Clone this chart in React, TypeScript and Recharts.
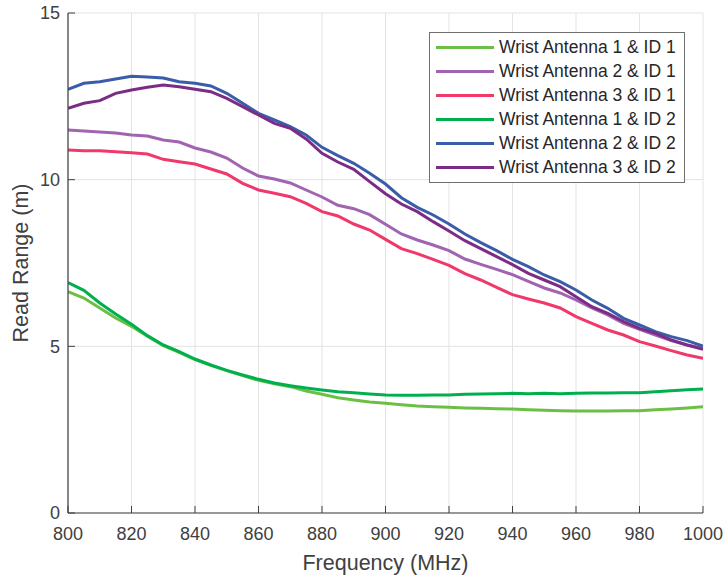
import React from 'react';
import { LineChart, Line, XAxis, YAxis, CartesianGrid } from 'recharts';

const FREQ = [800, 805, 810, 815, 820, 825, 830, 835, 840, 845, 850, 855, 860, 865, 870, 875, 880, 885, 890, 895, 900, 905, 910, 915, 920, 925, 930, 935, 940, 945, 950, 955, 960, 965, 970, 975, 980, 985, 990, 995, 1000];

const A1_ID1 = [6.64, 6.45, 6.15, 5.85, 5.6, 5.3, 5.02, 4.82, 4.6, 4.43, 4.27, 4.12, 3.98, 3.88, 3.79, 3.66, 3.56, 3.46, 3.39, 3.33, 3.29, 3.25, 3.21, 3.19, 3.17, 3.15, 3.14, 3.13, 3.12, 3.1, 3.08, 3.07, 3.06, 3.06, 3.06, 3.07, 3.07, 3.1, 3.12, 3.15, 3.19];
const A2_ID1 = [11.49, 11.46, 11.43, 11.4, 11.34, 11.31, 11.19, 11.13, 10.95, 10.83, 10.65, 10.35, 10.11, 10.02, 9.9, 9.69, 9.48, 9.23, 9.13, 8.95, 8.66, 8.37, 8.19, 8.04, 7.87, 7.62, 7.46, 7.31, 7.15, 6.95, 6.75, 6.6, 6.39, 6.15, 5.94, 5.69, 5.51, 5.34, 5.17, 5.04, 4.94];
const A3_ID1 = [10.89, 10.87, 10.87, 10.84, 10.81, 10.77, 10.61, 10.54, 10.47, 10.32, 10.17, 9.89, 9.69, 9.59, 9.49, 9.29, 9.04, 8.91, 8.67, 8.49, 8.21, 7.93, 7.78, 7.61, 7.43, 7.18, 6.99, 6.77, 6.55, 6.42, 6.3, 6.15, 5.89, 5.69, 5.49, 5.34, 5.14, 5.01, 4.87, 4.74, 4.64];
const A1_ID2 = [6.91, 6.68, 6.3, 5.97, 5.66, 5.32, 5.04, 4.84, 4.62, 4.44, 4.28, 4.14, 4.01, 3.9, 3.82, 3.75, 3.69, 3.64, 3.61, 3.57, 3.54, 3.53, 3.53, 3.54, 3.54, 3.56, 3.57, 3.58, 3.59, 3.58, 3.59, 3.58, 3.59, 3.6, 3.6, 3.61, 3.61, 3.64, 3.67, 3.7, 3.72];
const A2_ID2 = [12.71, 12.89, 12.94, 13.02, 13.1, 13.08, 13.05, 12.94, 12.89, 12.81, 12.59, 12.29, 11.99, 11.79, 11.59, 11.34, 10.97, 10.72, 10.49, 10.19, 9.87, 9.46, 9.17, 8.94, 8.67, 8.37, 8.11, 7.87, 7.61, 7.39, 7.14, 6.94, 6.69, 6.39, 6.14, 5.84, 5.64, 5.44, 5.29, 5.17, 5.01];
const A3_ID2 = [12.14, 12.29, 12.37, 12.59, 12.69, 12.77, 12.84, 12.79, 12.71, 12.64, 12.44, 12.19, 11.94, 11.69, 11.54, 11.22, 10.79, 10.53, 10.31, 9.94, 9.58, 9.27, 9.04, 8.74, 8.46, 8.17, 7.93, 7.69, 7.45, 7.19, 6.99, 6.79, 6.49, 6.19, 5.99, 5.74, 5.54, 5.39, 5.19, 5.04, 4.91];

const X_TICKS = [800, 820, 840, 860, 880, 900, 920, 940, 960, 980, 1000];
const Y_TICKS = [0, 5, 10, 15];

const SERIES = [
  { key: 'a1id1', name: 'Wrist Antenna 1 & ID 1', color: '#6cbf45', values: A1_ID1 },
  { key: 'a2id1', name: 'Wrist Antenna 2 & ID 1', color: '#a064b0', values: A2_ID1 },
  { key: 'a3id1', name: 'Wrist Antenna 3 & ID 1', color: '#f0386b', values: A3_ID1 },
  { key: 'a1id2', name: 'Wrist Antenna 1 & ID 2', color: '#00b04f', values: A1_ID2 },
  { key: 'a2id2', name: 'Wrist Antenna 2 & ID 2', color: '#3a5daa', values: A2_ID2 },
  { key: 'a3id2', name: 'Wrist Antenna 3 & ID 2', color: '#7b2c85', values: A3_ID2 },
];

const data = FREQ.map((f, i) => {
  const row: Record<string, number> = { f };
  SERIES.forEach((s) => {
    row[s.key] = s.values[i];
  });
  return row;
});

const AXIS = '#404040';
const FONT = '"Liberation Sans", Arial, Helvetica, sans-serif';
const TMX = 14;
const TMY = 8;
const TL = 7;

const BottomTick = (props: any) => {
  const { x, y, payload } = props;
  return (
    <g>
      <line x1={x} x2={x} y1={y - TMX} y2={y - TMX - TL} stroke={AXIS} strokeWidth={1} />
      <text x={x} y={y} dy="0.71em" textAnchor="middle" fill={AXIS} fontSize={18} fontFamily={FONT}>
        {payload.value}
      </text>
    </g>
  );
};

const TopTick = (props: any) => {
  const { x, y } = props;
  return <line x1={x} x2={x} y1={y} y2={y + TL} stroke={AXIS} strokeWidth={1} />;
};

const LeftTick = (props: any) => {
  const { x, y, payload } = props;
  return (
    <g>
      <line x1={x + TMY} x2={x + TMY + TL} y1={y} y2={y} stroke={AXIS} strokeWidth={1} />
      <text x={x} y={y} dy="0.355em" textAnchor="end" fill={AXIS} fontSize={18} fontFamily={FONT}>
        {payload.value}
      </text>
    </g>
  );
};

const RightTick = (props: any) => {
  const { x, y } = props;
  return <line x1={x} x2={x - TL} y1={y} y2={y} stroke={AXIS} strokeWidth={1} />;
};

export default function App() {
  return (
    <div style={{ position: 'absolute', left: 0, top: 0, width: 725, height: 578 }}>
      <LineChart
        width={725}
        height={578}
        data={data}
        margin={{ top: 13, right: 22, bottom: 0, left: 0 }}
        style={{ fontFamily: FONT }}
      >
        <CartesianGrid stroke="#e3e3e3" strokeWidth={1} />
        <XAxis
          dataKey="f"
          type="number"
          domain={[800, 1000]}
          ticks={X_TICKS}
          height={65}
          tickSize={0}
          tickMargin={TMX}
          tickLine={false}
          tick={BottomTick}
          axisLine={{ stroke: AXIS, strokeWidth: 1.2 }}
          allowDataOverflow
          label={{ value: 'Frequency (MHz)', position: 'insideBottom', offset: 8, fill: AXIS, fontSize: 21.5, fontFamily: FONT }}
        />
        <XAxis
          xAxisId="top"
          orientation="top"
          type="number"
          domain={[800, 1000]}
          ticks={X_TICKS}
          height={0}
          tickSize={0}
          tickMargin={0}
          tickLine={false}
          tick={TopTick}
          axisLine={{ stroke: AXIS, strokeWidth: 1.2 }}
          allowDataOverflow
        />
        <YAxis
          type="number"
          domain={[0, 15]}
          ticks={Y_TICKS}
          width={68}
          tickSize={0}
          tickMargin={TMY}
          tickLine={false}
          tick={LeftTick}
          axisLine={{ stroke: AXIS, strokeWidth: 1.2 }}
          allowDataOverflow
          label={{ value: 'Read Range (m)', angle: -90, position: 'insideLeft', offset: 20, fill: AXIS, fontSize: 21.5, fontFamily: FONT, style: { textAnchor: 'middle' } }}
        />
        <YAxis
          yAxisId="right"
          orientation="right"
          type="number"
          domain={[0, 15]}
          ticks={Y_TICKS}
          width={0}
          tickSize={0}
          tickMargin={0}
          tickLine={false}
          tick={RightTick}
          axisLine={{ stroke: AXIS, strokeWidth: 1.2 }}
          allowDataOverflow
        />
        {SERIES.map((s) => (
          <Line
            key={s.key}
            type="linear"
            dataKey={s.key}
            name={s.name}
            stroke={s.color}
            strokeWidth={3}
            dot={false}
            activeDot={false}
            isAnimationActive={false}
          />
        ))}
      </LineChart>
      <div
        style={{
          position: 'absolute',
          left: 429,
          top: 32,
          width: 254,
          height: 147,
          border: '1px solid #707070',
          background: '#ffffff',
          paddingTop: 2,
          boxSizing: 'content-box',
          fontFamily: FONT,
          fontSize: 17.5,
          color: '#262626',
        }}
      >
        {SERIES.map((s) => (
          <div key={s.key} style={{ display: 'flex', alignItems: 'center', height: 24 }}>
            <div style={{ marginLeft: 6, width: 58, height: 3, background: s.color }} />
            <span style={{ marginLeft: 5, whiteSpace: 'nowrap', lineHeight: '24px' }}>{s.name}</span>
          </div>
        ))}
      </div>
    </div>
  );
}
